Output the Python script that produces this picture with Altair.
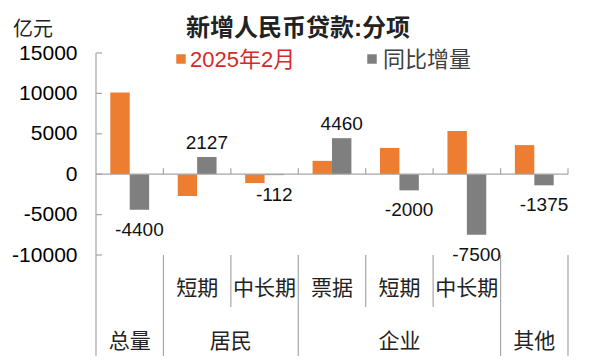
import altair as alt
import pandas as pd

# ---------------- data ----------------
categories = ["总量", "居民短期", "居民中长期", "企业票据", "企业短期", "企业中长期", "其他"]
sub_labels = ["", "短期", "中长期", "票据", "短期", "中长期", ""]
series_names = ["2025年2月", "同比增量"]
feb_2025 = [10100, -2700, -1100, 1650, 3250, 5350, 3600]
yoy_change = [-4400, 2127, -112, 4460, -2000, -7500, -1375]
group_names = ["总量", "居民", "企业", "其他"]
group_first = [0, 1, 3, 6]
group_last = [0, 2, 5, 6]
y_ticks = [-10000, -5000, 0, 5000, 10000, 15000]
title_text = "新增人民币贷款:分项"
unit_text = "亿元"

# ---------------- style ----------------
FONT = "Liberation Sans, Noto Sans CJK SC"
W, H = 472, 202
ORANGE = "#ED7D31"
GRAY = "#7F7F7F"
AXIS = "#A6A6A6"
LEGEND_TEXT = ["#D42A2A", "#404040"]

bars_df = pd.DataFrame({
    "cat": categories * 2,
    "series": [series_names[0]] * len(categories) + [series_names[1]] * len(categories),
    "value": feb_2025 + yoy_change,
})

xscale = alt.Scale(domain=categories, paddingInner=0, paddingOuter=0)
yscale = alt.Scale(domain=[y_ticks[0], y_ticks[-1]], nice=False, zero=False)
xoff = alt.XOffset("series:N", scale=alt.Scale(domain=series_names, paddingInner=0, paddingOuter=0.737))
yaxis = alt.Axis(values=y_ticks, labelExpr="toString(datum.value)", title=None, grid=False,
                 domain=False, ticks=False, labelPadding=19, labelFontSize=21, labelColor="#000",
                 labelFont=FONT)


def X(band=None):
    if band is None:
        return alt.X("cat:N", scale=xscale, axis=None)
    return alt.X("cat:N", scale=xscale, axis=None, bandPosition=band)


def Y(field):
    return alt.Y(field, scale=yscale, axis=yaxis)


bars = alt.Chart(bars_df).mark_bar().encode(
    x=X(),
    xOffset=xoff,
    y=Y("value:Q"),
    color=alt.Color("series:N", scale=alt.Scale(domain=series_names, range=[ORANGE, GRAY]), legend=None),
)

label_enc = dict(
    x=X(), xOffset=xoff,
    y=Y("value:Q"),
    text="label:N",
)
lab_pos = alt.Chart(bars_df).transform_filter(
    f"datum.series == '{series_names[1]}' && datum.value >= 0"
).transform_calculate(label="toString(datum.value)").mark_text(
    dy=-14, fontSize=19, font=FONT, color="#111").encode(**label_enc)
lab_neg = alt.Chart(bars_df).transform_filter(
    f"datum.series == '{series_names[1]}' && datum.value < 0"
).transform_calculate(label="toString(datum.value)").mark_text(
    dy=20, fontSize=19, font=FONT, color="#111").encode(**label_enc)

# y axis line and inward ticks
one = pd.DataFrame({"a": [0]})
yline = alt.Chart(one).mark_rule(color=AXIS, strokeWidth=1.2).encode(
    x=alt.value(0), y=alt.value(0), y2=alt.value(303))
yticks = alt.Chart(pd.DataFrame({"v": y_ticks})).mark_rule(color=AXIS, strokeWidth=1.2).encode(
    y=Y("v:Q"), x=alt.value(0), x2=alt.value(6))

# zero line
zero = alt.Chart(pd.DataFrame({"v": [0]})).mark_rule(color=AXIS, strokeWidth=1.2).encode(
    y=Y("v:Q"), x=alt.value(0), x2=alt.value(W))

cat_df = pd.DataFrame({"cat": categories, "sub": sub_labels, "idx": range(len(categories)),
                       "v": [0] * len(categories)})
zticks = alt.Chart(cat_df).transform_filter("datum.idx > 0").mark_rule(
    color=AXIS, strokeWidth=1.2, y2Offset=-6).encode(x=X(0), y=Y("v:Q"), y2="v:Q")
zticks_end = alt.Chart(cat_df).transform_filter(f"datum.idx == {len(categories) - 1}").mark_rule(
    color=AXIS, strokeWidth=1.2, y2Offset=-6).encode(x=X(1), y=Y("v:Q"), y2="v:Q")

# separators below the plot
long_filter = " || ".join(f"datum.idx == {i}" for i in group_first if i > 0)
short_filter = " && ".join(f"datum.idx != {i}" for i in group_first)
sep_long = alt.Chart(cat_df).transform_filter(long_filter).mark_rule(color=AXIS, strokeWidth=1.2).encode(
    x=X(0), y=alt.value(H), y2=alt.value(303))
sep_end = alt.Chart(cat_df).transform_filter(f"datum.idx == {len(categories) - 1}").mark_rule(
    color=AXIS, strokeWidth=1.2).encode(x=X(1), y=alt.value(H), y2=alt.value(303))
sep_short = alt.Chart(cat_df).transform_filter(short_filter).mark_rule(color=AXIS, strokeWidth=1.2).encode(
    x=X(0), y=alt.value(H), y2=alt.value(254))

sub_text = alt.Chart(cat_df).transform_filter("datum.sub != ''").mark_text(
    fontSize=21, font=FONT, color="#222").encode(x=X(), y=alt.value(236), text="sub:N")

# group labels
grp_rows = []
for name, f, l in zip(group_names, group_first, group_last):
    if (f + l) % 2 == 0:
        grp_rows.append({"cat": categories[(f + l) // 2], "name": name, "mid": 1})
    else:
        grp_rows.append({"cat": categories[(f + l + 1) // 2], "name": name, "mid": 0})
grp_df = pd.DataFrame(grp_rows)
grp_mid = alt.Chart(grp_df).transform_filter("datum.mid == 1").mark_text(
    fontSize=21, font=FONT, color="#222").encode(x=X(), y=alt.value(289), text="name:N")
grp_edge = alt.Chart(grp_df).transform_filter("datum.mid == 0").mark_text(
    fontSize=21, font=FONT, color="#222").encode(x=X(0), y=alt.value(289), text="name:N")

# title and unit
title = alt.Chart(pd.DataFrame({"t": [title_text]})).mark_text(
    fontSize=24, fontWeight="bold", font=FONT, color="#222").encode(
    x=alt.value(202), y=alt.value(-24), text="t:N")
unit = alt.Chart(pd.DataFrame({"t": [unit_text]})).mark_text(
    fontSize=20, font=FONT, color="#222").encode(
    x=alt.value(-63), y=alt.value(-23), text="t:N")

# legend
leg_df = pd.DataFrame({"series": series_names})
legend_layers = []
leg_pos = [(85, 7, 94), (276, 7, 287)]
for i, s in enumerate(series_names):
    sq_x, cy, tx = leg_pos[i]
    legend_layers.append(
        alt.Chart(leg_df).transform_filter(f"datum.series == '{s}'").mark_square(size=90, opacity=1).encode(
            x=alt.value(sq_x), y=alt.value(cy - 1),
            color=alt.Color("series:N", scale=alt.Scale(domain=series_names, range=[ORANGE, GRAY]), legend=None))
    )
    legend_layers.append(
        alt.Chart(leg_df).transform_filter(f"datum.series == '{s}'").mark_text(
            fontSize=22, font=FONT, align="left", color=LEGEND_TEXT[i]).encode(
            x=alt.value(tx), y=alt.value(cy), text="series:N")
    )

chart = alt.layer(
    bars, yline, yticks, zero, zticks, zticks_end, sep_long, sep_end, sep_short,
    lab_pos, lab_neg, sub_text, grp_mid, grp_edge, title, unit, *legend_layers
).properties(
    width=W, height=H,
    padding={"left": 88, "top": 45, "right": 16, "bottom": 101},
    autosize=alt.AutoSizeParams(type="none"),
    background="white",
).configure_view(stroke=None)

chart.save("out.html", embed_options={"renderer": "svg", "actions": False})
